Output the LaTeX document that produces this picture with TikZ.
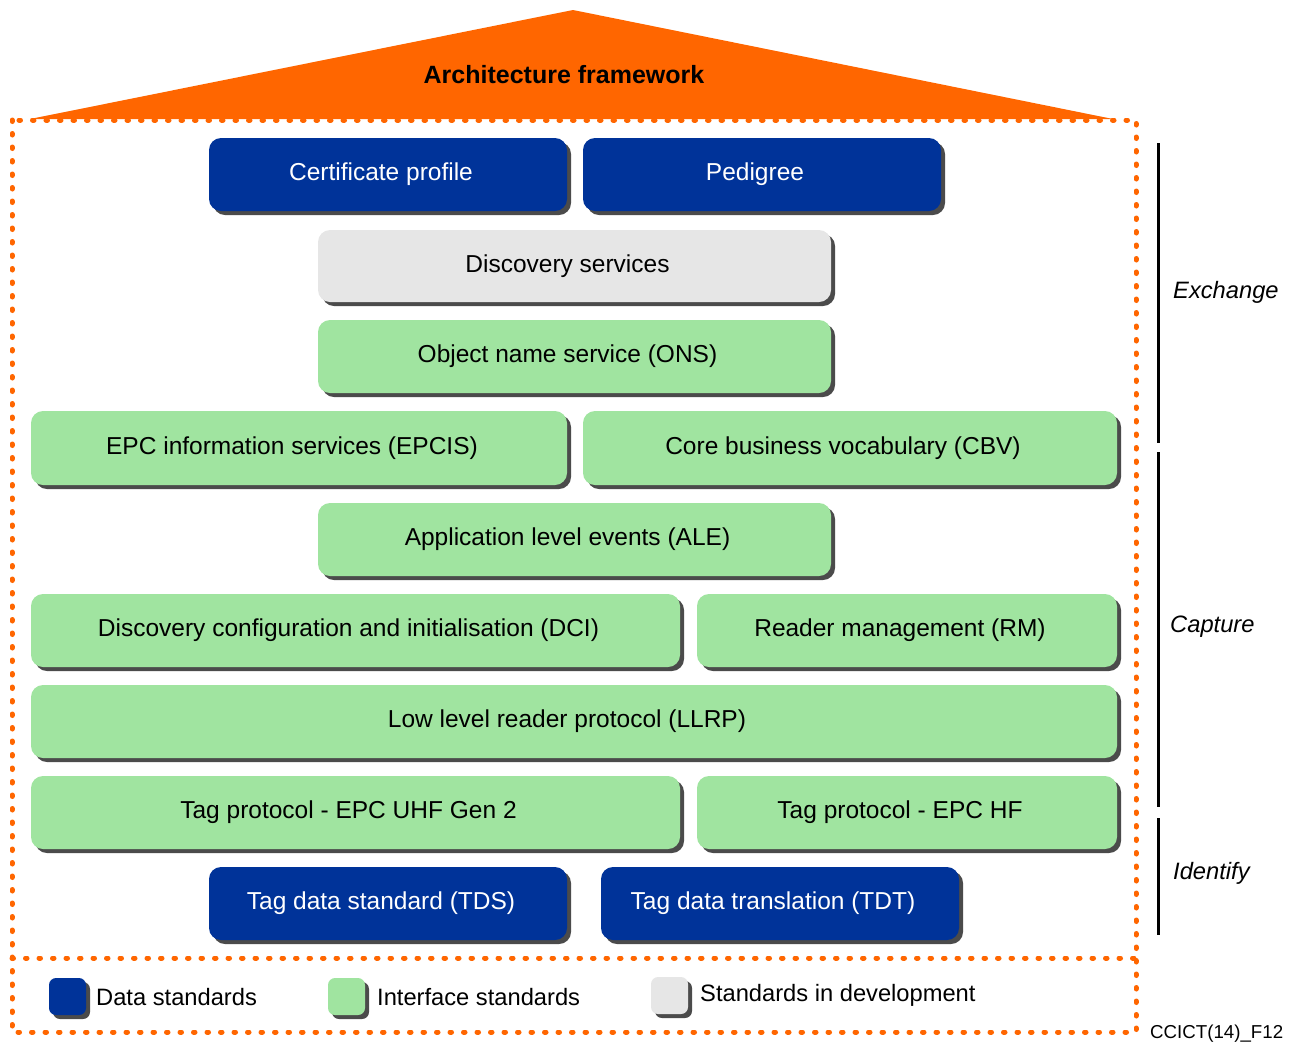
\documentclass[tikz,border=0pt]{standalone}
\usepackage{fontspec}
\setmainfont{Liberation Sans}
\usetikzlibrary{shadows}
\definecolor{dblue}{RGB}{0,51,153}
\definecolor{igreen}{RGB}{160,228,160}
\definecolor{dgray}{RGB}{230,230,230}
\definecolor{shgray}{RGB}{75,75,75}
\definecolor{roof}{RGB}{255,102,0}
\newcommand{\boxfont}{\fontsize{24.5}{28}\selectfont}
\newcommand{\legfont}{\fontsize{23.7}{27}\selectfont}
\tikzset{
  box/.style={rounded corners=12pt, minimum height=73pt, inner sep=0pt, font=\boxfont,
    execute at begin node={\hspace*{-14pt}},
    drop shadow={shadow xshift=4pt, shadow yshift=-4pt, fill=shgray, opacity=1}},
  data/.style={box, fill=dblue, text=white},
  iface/.style={box, fill=igreen, text=black},
  dev/.style={box, fill=dgray, text=black},
  legsq/.style={rounded corners=7pt, minimum width=37pt, minimum height=37pt, inner sep=0pt,
    drop shadow={shadow xshift=4pt, shadow yshift=-4pt, fill=shgray, opacity=1}},
  legtxt/.style={anchor=west, font=\legfont, inner sep=0pt},
  frame/.style={draw=roof, line width=5pt, line cap=round, dash pattern=on 1.5pt off 12pt},
  bar/.style={draw=black, line width=3pt},
  layer/.style={font=\legfont\itshape, anchor=west, inner sep=0pt},
}
\begin{document}
\begin{tikzpicture}[x=1pt,y=-1pt]
\useasboundingbox (0,0) rectangle (1291,1045);
% roof
\fill[roof] (30,119) -- (573,10) -- (1113,119) -- cycle;
\node[font=\fontsize{25}{29}\selectfont\bfseries] (title) at (564,75) {Architecture framework};
% frame
\draw[frame] (12,120) rectangle (1136,1032);
\draw[frame] (12,958) -- (1136,958);
% boxes
\node[data, minimum width=358pt] (cert) at (388,174.5) {Certificate profile};
\node[data, minimum width=358pt] (ped) at (762,174.5) {Pedigree};
\node[dev, minimum width=513pt, minimum height=72pt] (disc) at (574.5,266) {Discovery services};
\node[iface, minimum width=513pt] (ons) at (574.5,356.5) {Object name service (ONS)};
\node[iface, minimum width=536pt, minimum height=74pt] (epcis) at (299,448) {EPC information services (EPCIS)};
\node[iface, minimum width=534pt, minimum height=74pt] (cbv) at (850,448) {Core business vocabulary (CBV)};
\node[iface, minimum width=513pt] (ale) at (574.5,539.5) {Application level events (ALE)};
\node[iface, minimum width=649pt] (dci) at (355.5,630.5) {Discovery configuration and initialisation (DCI)};
\node[iface, minimum width=420pt] (rm) at (907,630.5) {Reader management (RM)};
\node[iface, minimum width=1086pt] (llrp) at (574,721.5) {Low level reader protocol (LLRP)};
\node[iface, minimum width=649pt] (uhf) at (355.5,812.5) {Tag protocol - EPC UHF Gen 2};
\node[iface, minimum width=420pt] (hf) at (907,812.5) {Tag protocol - EPC HF};
\node[data, minimum width=358pt] (tds) at (388,903.5) {Tag data standard (TDS)};
\node[data, minimum width=358pt] (tdt) at (780,903.5) {Tag data translation (TDT)};
% side bars
\coordinate (ex1) at (1158,143); \coordinate (ex2) at (1158,443);
\coordinate (ca1) at (1158,452); \coordinate (ca2) at (1158,807);
\coordinate (id1) at (1158,818); \coordinate (id2) at (1158,935);
\draw[bar] (ex1) -- (ex2);
\draw[bar] (ca1) -- (ca2);
\draw[bar] (id1) -- (id2);
\node[layer] (exl) at (1173,292) {Exchange};
\node[layer] (cal) at (1170,627) {Capture};
\node[layer] (idl) at (1173,873) {Identify};
% legend
\node[legsq, fill=dblue] (lg1) at (67.5,996.5) {};
\node[legtxt] (lt1) at (96,997) {Data standards};
\node[legsq, fill=igreen] (lg2) at (346.5,996.5) {};
\node[legtxt] (lt2) at (377,997) {Interface standards};
\node[legsq, fill=dgray] (lg3) at (669.5,995.5) {};
\node[legtxt] (lt3) at (700,995) {Standards in development};
\node[anchor=west, inner sep=0pt, font=\fontsize{18.7}{22}\selectfont] (fig) at (1150,1034) {CCICT(14)\_F12};
\end{tikzpicture}
\end{document}
